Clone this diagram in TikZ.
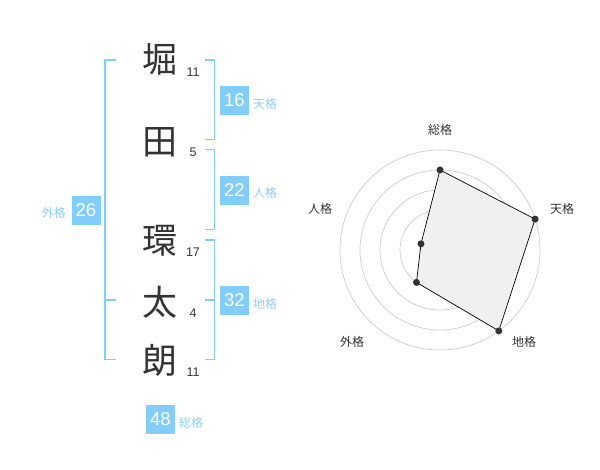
\documentclass[tikz,border=0pt]{standalone}
\usepackage{fontspec}
\setmainfont{Liberation Sans}
\newfontfamily\cjk{Noto Sans CJK JP}
\definecolor{kblue}{RGB}{130,205,250}
\definecolor{klabel}{RGB}{140,205,245}
\definecolor{kdark}{RGB}{51,51,51}
\definecolor{kgrid}{RGB}{204,204,204}
\definecolor{kfill}{RGB}{240,240,240}
\begin{document}
\begin{tikzpicture}[x=1pt,y=-1pt,
  kanji/.style={font=\cjk\fontsize{35}{35}\selectfont,text=kdark,inner sep=0pt},
  stroke/.style={font=\fontsize{12.5}{12.5}\selectfont,text=kdark,inner sep=0pt},
  numbox/.style={fill=kblue,text=white,minimum width=29pt,minimum height=29pt,inner sep=0pt,font=\fontsize{18.5}{18.5}\selectfont},
  kaku/.style={font=\cjk\fontsize{12}{12}\selectfont,text=klabel,inner sep=0pt},
  rlabel/.style={font=\cjk\fontsize{12}{12}\selectfont,text=kdark,inner sep=0pt},
  bracket/.style={draw=kblue,line width=1.6pt},
  ring/.style={draw=kgrid,line width=0.7pt},
  dot/.style={circle,fill=kdark,inner sep=0pt,minimum size=7pt}]
\useasboundingbox (0,0) rectangle (600,470);
% kanji
\node[kanji] (k1) at (160,59) {堀};
\node[kanji] (k2) at (160,142) {田};
\node[kanji] (k3) at (160,241) {環};
\node[kanji] (k4) at (160,302) {太};
\node[kanji] (k5) at (160,360) {朗};
% stroke counts
\node[stroke] (s1) at (193,72.5) {11};
\node[stroke] (s2) at (193,152.5) {5};
\node[stroke] (s3) at (193,252.5) {17};
\node[stroke] (s4) at (193,313) {4};
\node[stroke] (s5) at (193,372.5) {11};
% brackets
\draw[bracket] (116,60) -- (105,60) -- (105,359.5) -- (116,359.5);
\draw[bracket] (105,300) -- (116,300);
\draw[bracket] (205,60) -- (214.5,60) -- (214.5,139.5) -- (205,139.5);
\draw[bracket] (205,149.5) -- (214.5,149.5) -- (214.5,229.5) -- (205,229.5);
\draw[bracket] (205,240) -- (214.5,240) -- (214.5,359.5) -- (205,359.5);
\draw[bracket] (205,300) -- (214.5,300);
% number boxes
\node[numbox] (b16) at (234.5,100.5) {16};
\node[kaku,anchor=west] (l16) at (253,104) {天格};
\node[numbox] (b22) at (234.5,190.5) {22};
\node[kaku,anchor=west] (l22) at (253,193) {人格};
\node[numbox] (b26) at (86,210.5) {26};
\node[kaku,anchor=east] (l26) at (66,213) {外格};
\node[numbox] (b32) at (234.5,300.5) {32};
\node[kaku,anchor=west] (l32) at (253,304) {地格};
\node[numbox] (b48) at (160.5,419) {48};
\node[kaku,anchor=west] (l48) at (179,422.5) {総格};
% radar
\coordinate (c) at (440,250);
\foreach \r in {20,40,60,80,100} \draw[ring] (c) circle[radius=\r];
\node[circle,fill=kgrid,inner sep=0pt,minimum size=7pt] (cdot) at (c) {};
\coordinate (p1) at ({440+80*cos(90)},{250-80*sin(90)});
\coordinate (p2) at ({440+100*cos(18)},{250-100*sin(18)});
\coordinate (p3) at ({440+100*cos(-54)},{250-100*sin(-54)});
\coordinate (p4) at ({440+40*cos(-126)},{250-40*sin(-126)});
\coordinate (p5) at ({440+20*cos(162)},{250-20*sin(162)});
\draw[fill=kfill,draw=black,line width=0.7pt] (p1) -- (p2) -- (p3) -- (p4) -- (p5) -- cycle;
\foreach \p in {p1,p2,p3,p4,p5} \node[dot] at (\p) {};
\node[rlabel] (r1) at (440,130) {総格};
\node[rlabel] (r2) at (562,209) {天格};
\node[rlabel] (r3) at (524,342) {地格};
\node[rlabel] (r4) at (352,342) {外格};
\node[rlabel] (r5) at (320,209) {人格};
\end{tikzpicture}
\end{document}
